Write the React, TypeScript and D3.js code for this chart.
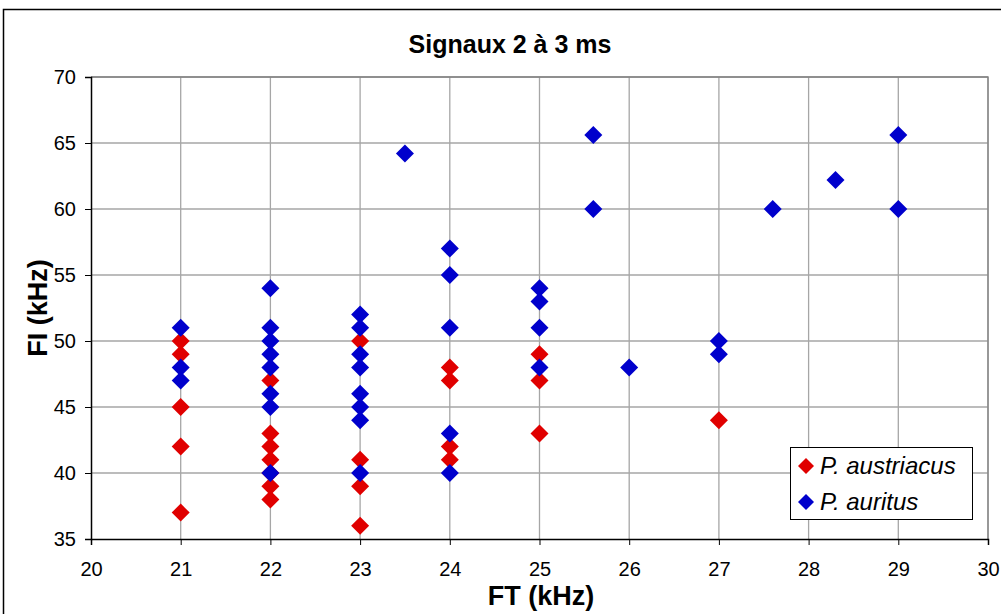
import { useRef, useEffect } from "react";
import * as d3 from "d3";

// FT (kHz), FI (kHz) per species
const austriacusFT = [21, 21, 21, 21, 21, 22, 22, 22, 22, 22, 22, 22, 23, 23, 23, 23, 24, 24, 24, 24, 25, 25, 25, 27];
const austriacusFI = [50, 49, 45, 42, 37, 47, 43, 42, 41, 40, 39, 38, 50, 41, 39, 36, 48, 47, 42, 41, 49, 47, 43, 44];

const auritusFT = [
  21, 21, 21,
  22, 22, 22, 22, 22, 22, 22, 22,
  23, 23, 23, 23, 23, 23, 23, 23,
  23.5,
  24, 24, 24, 24, 24,
  25, 25, 25, 25,
  25.6, 25.6, 26, 27, 27, 27.6, 28.3, 29, 29,
];
const auritusFI = [
  51, 48, 47,
  54, 51, 50, 49, 48, 46, 45, 40,
  52, 51, 49, 48, 46, 45, 44, 40,
  64.2,
  57, 55, 51, 43, 40,
  54, 53, 51, 48,
  65.6, 60, 48, 50, 49, 60, 62.2, 65.6, 60,
];

const xTicks = [20, 21, 22, 23, 24, 25, 26, 27, 28, 29, 30];
const yTicks = [35, 40, 45, 50, 55, 60, 65, 70];

const seriesNames = ["P. austriacus", "P. auritus"];
const colors = ["#e00000", "#0000cc"];

export default function App() {
  const svgRef = useRef<SVGSVGElement>(null);

  useEffect(() => {
    const W = 1001, H = 614;
    const svg = d3.select(svgRef.current);
    svg.selectAll("*").remove();
    svg.attr("width", W).attr("height", H);

    const font = "'Liberation Sans', Arial, sans-serif";
    const left = 91, right = 988, top = 77, bottom = 539;

    // outer chart frame
    svg.append("rect")
      .attr("x", 3.5).attr("y", 9.5).attr("width", 1000).attr("height", 620)
      .attr("fill", "#fff").attr("stroke", "#000").attr("stroke-width", 1.5);

    const x = d3.scaleLinear().domain([20, 30]).range([left, right]);
    const y = d3.scaleLinear().domain([35, 70]).range([bottom, top]);

    // grid
    svg.append("g").selectAll("line")
      .data(xTicks.slice(1))
      .join("line")
      .attr("x1", (d) => x(d)).attr("x2", (d) => x(d))
      .attr("y1", top).attr("y2", bottom)
      .attr("stroke", "#a6a6a6").attr("stroke-width", 1.3);
    svg.append("g").selectAll("line")
      .data(yTicks.slice(1))
      .join("line")
      .attr("x1", left).attr("x2", right)
      .attr("y1", (d) => y(d)).attr("y2", (d) => y(d))
      .attr("stroke", "#a6a6a6").attr("stroke-width", 1.3);

    // plot border (top/right)
    svg.append("path")
      .attr("d", `M${left},${top}H${right}V${bottom}`)
      .attr("fill", "none").attr("stroke", "#808080").attr("stroke-width", 1.3);

    // axes
    const xAxis = svg.append("g").attr("transform", `translate(0,${bottom})`)
      .call(d3.axisBottom(x).tickValues(xTicks).tickSize(6).tickPadding(17));
    const yAxis = svg.append("g").attr("transform", `translate(${left},0)`)
      .call(d3.axisLeft(y).tickValues(yTicks).tickSize(6).tickPadding(9));
    [xAxis, yAxis].forEach((a) => {
      a.select(".domain").attr("stroke", "#000").attr("stroke-width", 1.5);
      a.selectAll(".tick line").attr("stroke", "#000");
      a.selectAll("text").attr("fill", "#000").attr("font-size", "20px").attr("font-family", font);
    });

    const diamond = "M0,-9L9,0L0,9L-9,0Z";

    const series = [
      austriacusFT.map((v, i) => ({ ft: v, fi: austriacusFI[i] })),
      auritusFT.map((v, i) => ({ ft: v, fi: auritusFI[i] })),
    ];
    series.forEach((data, si) => {
      svg.append("g").selectAll("path")
        .data(data)
        .join("path")
        .attr("d", diamond)
        .attr("transform", (d) => `translate(${x(d.ft)},${y(d.fi)})`)
        .attr("fill", colors[si]);
    });

    // titles
    svg.append("text")
      .attr("x", 510).attr("y", 53).attr("text-anchor", "middle")
      .attr("font-family", font).attr("font-weight", "bold").attr("font-size", "25px")
      .text("Signaux 2 à 3 ms");
    svg.append("text")
      .attr("x", 541).attr("y", 605).attr("text-anchor", "middle")
      .attr("font-family", font).attr("font-weight", "bold").attr("font-size", "27px")
      .text("FT (kHz)");
    svg.append("text")
      .attr("transform", `translate(47,${(top + bottom) / 2}) rotate(-90)`)
      .attr("text-anchor", "middle")
      .attr("font-family", font).attr("font-weight", "bold").attr("font-size", "27px")
      .text("FI (kHz)");

    // legend
    const lg = svg.append("g").attr("transform", "translate(790,447)");
    lg.append("rect").attr("x", 0.5).attr("y", 0.5).attr("width", 182).attr("height", 72)
      .attr("fill", "#fff").attr("stroke", "#000");
    seriesNames.forEach((name, i) => {
      const row = lg.append("g").attr("transform", `translate(0,${19 + i * 36})`);
      row.append("path").attr("d", "M0,-8L8,0L0,8L-8,0Z")
        .attr("transform", "translate(16,0)").attr("fill", colors[i]);
      row.append("text").attr("x", 30).attr("y", 8)
        .attr("font-family", font).attr("font-style", "italic").attr("font-size", "24px")
        .text(name);
    });
  }, []);

  return <svg ref={svgRef} style={{ position: "absolute", left: 0, top: 0 }}></svg>;
}
